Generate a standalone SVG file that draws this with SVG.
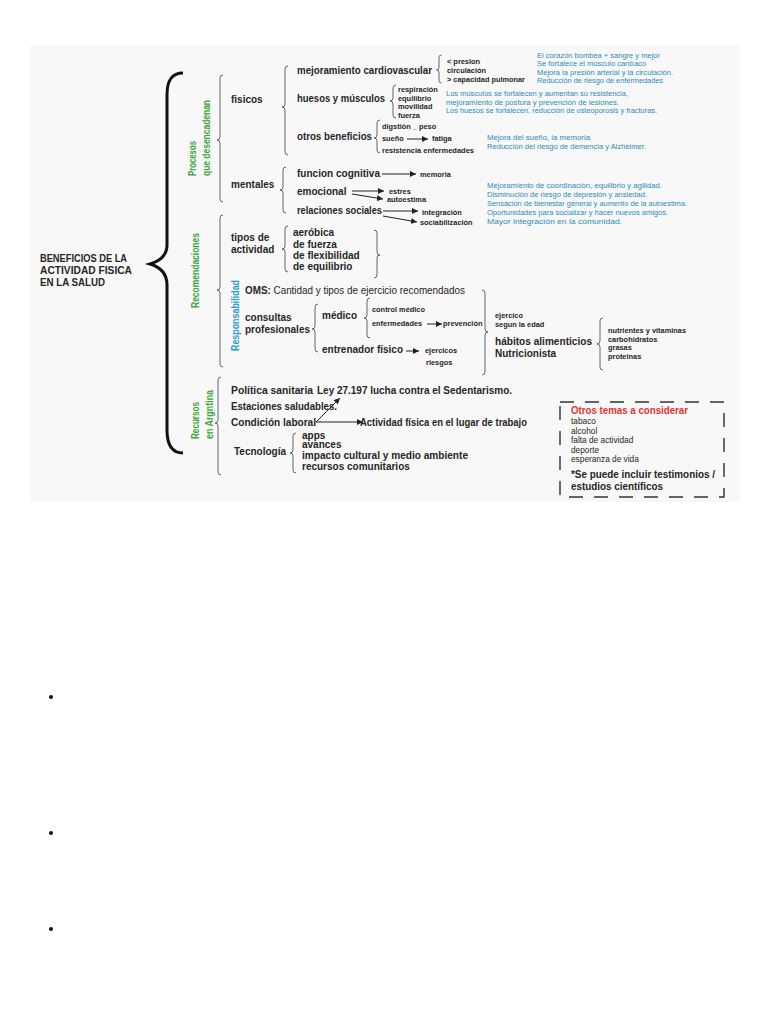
<svg xmlns="http://www.w3.org/2000/svg" width="768" height="1024" viewBox="0 0 768 1024">
<defs>
<style>
text{font-family:"Liberation Sans",Arial,sans-serif;fill:#262626}
.b{font-weight:bold}
.f10{font-size:10px;font-weight:bold}
.f9{font-size:9px;font-weight:bold}
.s{font-size:7.4px;font-weight:bold}
.bl{font-size:7.9px;fill:#2b8cb8}
.g{font-size:11px;font-weight:bold;fill:#3aa639}
.rb{font-size:11px;font-weight:bold;fill:#2a9bd0}
.br{fill:none;stroke:#555;stroke-width:0.9}
.ar{stroke:#222;stroke-width:1;fill:none;marker-end:url(#ah)}
</style>
<marker id="ah" markerUnits="userSpaceOnUse" markerWidth="6" markerHeight="6" refX="6" refY="3" orient="auto">
<path d="M0,0 L6,3 L0,6 z" fill="#222"/>
</marker>
</defs>
<rect width="768" height="1024" fill="#ffffff"/>
<rect x="30" y="45" width="710" height="457" fill="#f8f8f8"/>

<g id="root">
<path d="M183,73 C172,73 167,80 167,95 L167,245 C167,255 160,261 150,264 C160,267 167,273 167,285 L167,430 C167,445 172,453 183,453" fill="none" stroke="#111" stroke-width="3"/>
<text class="f10" x="40" y="262" textLength="87" lengthAdjust="spacingAndGlyphs">BENEFICIOS DE LA</text>
<text class="f10" x="40" y="274" textLength="92" lengthAdjust="spacingAndGlyphs">ACTIVIDAD FISICA</text>
<text class="f10" x="40" y="286" textLength="65" lengthAdjust="spacingAndGlyphs">EN LA SALUD</text>
</g>

<g id="procesos">
<text class="g" transform="translate(196,176) rotate(-90)" textLength="35" lengthAdjust="spacingAndGlyphs">Procesos</text>
<text class="g" transform="translate(210,176) rotate(-90)" textLength="76" lengthAdjust="spacingAndGlyphs">que desencadenan</text>
<path class="br" d="M223,75 Q220,75 220,78 L220,137 Q220,140 217,140 Q220,140 220,143 L220,199 Q220,202 223,202"/>
</g>

<g id="fisicos">
<text class="f10" x="231" y="103">fisicos</text>
<path class="br" d="M288,66 Q285,66 285,69 L285,104 Q285,107 282,107 Q285,107 285,110 L285,152 Q285,155 288,155"/>
</g>

<g id="cardio">
<text class="f10" x="297" y="74" textLength="135" lengthAdjust="spacingAndGlyphs">mejoramiento cardiovascular</text>
<path class="br" d="M441.5,55 Q439,55 439,57.5 L439,67.5 Q439,70 436.5,70 Q439,70 439,72.5 L439,80.5 Q439,83 441.5,83"/>
<text class="s" x="447" y="64">&lt; presion</text>
<text class="s" x="447" y="73">circulación</text>
<text class="s" x="447" y="82" textLength="78" lengthAdjust="spacingAndGlyphs">&gt; capacidad pulmonar</text>
<text class="bl" x="537" y="58" textLength="123" lengthAdjust="spacingAndGlyphs">El corazón bombea + sangre y mejor</text>
<text class="bl" x="537" y="66" textLength="109" lengthAdjust="spacingAndGlyphs">Se fortalece el músculo cardíaco</text>
<text class="bl" x="537" y="75" textLength="136" lengthAdjust="spacingAndGlyphs">Mejora la presión arterial y la circulación.</text>
<text class="bl" x="537" y="83" textLength="126" lengthAdjust="spacingAndGlyphs">Reducción de riesgo de enfermedades</text>
</g>

<g id="huesos">
<text class="f10" x="297" y="102" textLength="88" lengthAdjust="spacingAndGlyphs">huesos y músculos</text>
<path class="br" d="M396,85 Q393,85 393,88 L393,98 Q393,101 390,101 Q393,101 393,104 L393,115 Q393,118 396,118"/>
<text class="s" x="398" y="92">respiración</text>
<text class="s" x="398" y="101">equilibrio</text>
<text class="s" x="398" y="109">movilidad</text>
<text class="s" x="398" y="118">fuerza</text>
<text class="bl" x="446" y="96" textLength="182" lengthAdjust="spacingAndGlyphs">Los músculos se fortalecen y aumentan su resistencia,</text>
<text class="bl" x="446" y="105" textLength="173" lengthAdjust="spacingAndGlyphs">mejoramiento de postura y prevención de lesiones.</text>
<text class="bl" x="446" y="113" textLength="211" lengthAdjust="spacingAndGlyphs">Los huesos se fortalecen, reducción de osteoporosis y fracturas.</text>
</g>

<g id="otros">
<text class="f10" x="297" y="140" textLength="75" lengthAdjust="spacingAndGlyphs">otros beneficios</text>
<path class="br" d="M380,120 Q377,120 377,123 L377,135 Q377,138 374,138 Q377,138 377,141 L377,150 Q377,153 380,153"/>
<text class="s" x="382" y="129">digstión _ peso</text>
<text class="s" x="382" y="141">sueño</text>
<text class="s" x="432" y="141">fatiga</text>
<text class="s" x="382" y="153" textLength="92" lengthAdjust="spacingAndGlyphs">resistencia enfermedades</text>
<text class="bl" x="487" y="140" textLength="103" lengthAdjust="spacingAndGlyphs">Mejora del sueño, la memoria</text>
<text class="bl" x="487" y="149" textLength="159" lengthAdjust="spacingAndGlyphs">Reducción del riesgo de demencia y Alzheimer.</text>
</g>

<g id="mentales">
<text class="f10" x="231" y="188">mentales</text>
<path class="br" d="M286,167 Q283,167 283,170 L283,187 Q283,190 280,190 Q283,190 283,193 L283,210 Q283,213 286,213"/>
<text class="f10" x="297" y="177" textLength="83" lengthAdjust="spacingAndGlyphs">funcion cognitiva</text>
<text class="s" x="420" y="177">memoria</text>
<text class="f10" x="297" y="195">emocional</text>
<text class="s" x="389" y="194">estres</text>
<text class="s" x="387" y="202">autoestima</text>
<text class="f10" x="297" y="214" textLength="85" lengthAdjust="spacingAndGlyphs">relaciones sociales</text>
<text class="s" x="422" y="215">integración</text>
<text class="s" x="420" y="225">sociabilización</text>
<text class="bl" x="487" y="188" textLength="175" lengthAdjust="spacingAndGlyphs">Mejoramiento de coordinación, equilibrio y agilidad.</text>
<text class="bl" x="487" y="197" textLength="160" lengthAdjust="spacingAndGlyphs">Disminución de riesgo de depresión y ansiedad.</text>
<text class="bl" x="487" y="206" textLength="200" lengthAdjust="spacingAndGlyphs">Sensación de bienestar general y aumento de la autoestima.</text>
<text class="bl" x="487" y="215" textLength="181" lengthAdjust="spacingAndGlyphs">Oportunidades para socializar y hacer nuevos amigos.</text>
<text class="bl" x="487" y="224" textLength="135" lengthAdjust="spacingAndGlyphs">Mayor integración en la comunidad.</text>
</g>

<g id="recomendaciones">
<text class="g" transform="translate(199,308) rotate(-90)" textLength="75" lengthAdjust="spacingAndGlyphs">Recomendaciones</text>
<path class="br" d="M223,215 Q220,215 220,218 L220,287 Q220,290 217,290 Q220,290 220,293 L220,364 Q220,367 223,367"/>
</g>

<g id="tipos">
<text class="f10" x="231" y="241">tipos de</text>
<text class="f10" x="231" y="253">actividad</text>
<path class="br" d="M288,226 Q285,226 285,229 L285,246 Q285,249 282,249 Q285,249 285,252 L285,269 Q285,272 288,272"/>
<text class="f10" x="293" y="236">aeróbica</text>
<text class="f10" x="293" y="248">de fuerza</text>
<text class="f10" x="293" y="259">de flexibilidad</text>
<text class="f10" x="293" y="270">de equilibrio</text>
<path class="br" d="M374,230 Q377,230 377,233 L377,252 Q377,255 380,255 Q377,255 377,258 L377,275 Q377,278 374,278"/>
</g>

<g id="responsabilidad">
<text class="rb" transform="translate(239,351) rotate(-90)" textLength="71" lengthAdjust="spacingAndGlyphs">Responsabilidad</text>
<text x="245" y="294" font-size="10.5" textLength="220" lengthAdjust="spacingAndGlyphs"><tspan font-weight="bold">OMS:</tspan> Cantidad y tipos de ejercicio recomendados</text>
</g>

<g id="consultas">
<text class="f10" x="245" y="321">consultas</text>
<text class="f10" x="245" y="333">profesionales</text>
<path class="br" d="M318,304 Q315,304 315,307 L315,326 Q315,329 312,329 Q315,329 315,332 L315,349 Q315,352 318,352"/>
<text class="f10" x="322" y="319">médico</text>
<path class="br" d="M370,298 Q367,298 367,301 L367,315 Q367,318 364,318 Q367,318 367,321 L367,335 Q367,338 370,338"/>
<text class="s" x="372" y="312">control médico</text>
<text class="s" x="372" y="326">enfermedades</text>
<text class="s" x="443" y="326">prevención</text>
<text class="f10" x="322" y="353" textLength="81" lengthAdjust="spacingAndGlyphs">entrenador físico</text>
<text class="s" x="425" y="353">ejercicos</text>
<text class="s" x="426" y="365">riesgos</text>
<path class="br" d="M482,290 Q485,290 485,293 L485,329 Q485,332 488,332 Q485,332 485,335 L485,372 Q485,375 482,375"/>
</g>

<g id="habitos">
<text class="s" x="495" y="318">ejercico</text>
<text class="s" x="495" y="327">segun la edad</text>
<text class="f10" x="495" y="345" font-size="10.5" textLength="97" lengthAdjust="spacingAndGlyphs">hábitos alimenticios</text>
<text class="f10" x="495" y="357" font-size="10.5">Nutricionista</text>
<path class="br" d="M603,318 Q600,318 600,321 L600,341 Q600,344 597,344 Q600,344 600,347 L600,367 Q600,370 603,370"/>
<text class="s" x="608" y="333">nutrientes y vitaminas</text>
<text class="s" x="608" y="342">carbohidratos</text>
<text class="s" x="608" y="350">grasas</text>
<text class="s" x="608" y="359">proteinas</text>
</g>

<g id="recursos">
<text class="g" transform="translate(199,439) rotate(-90)" textLength="37" lengthAdjust="spacingAndGlyphs">Recursos</text>
<text class="g" transform="translate(213,439) rotate(-90)" textLength="49" lengthAdjust="spacingAndGlyphs">en Argntina</text>
<path class="br" d="M221,377 Q218,377 218,380 L218,420 Q218,423 215,423 Q218,423 218,426 L218,472 Q218,475 221,475"/>
</g>

<g id="politica">
<text class="f10" x="231" y="394" textLength="82" lengthAdjust="spacingAndGlyphs">Política sanitaria</text>
<text class="f10" x="317" y="394" textLength="195" lengthAdjust="spacingAndGlyphs">Ley 27.197 lucha contra el Sedentarismo.</text>
<text class="f10" x="231" y="410" textLength="106" lengthAdjust="spacingAndGlyphs">Estaciones saludables.</text>
<text class="f10" x="231" y="426" textLength="85" lengthAdjust="spacingAndGlyphs">Condición laboral</text>
<text class="f10" x="360" y="426" textLength="167" lengthAdjust="spacingAndGlyphs">Actividad física en el lugar de trabajo</text>
</g>

<g id="tecnologia">
<text class="f10" x="234" y="455">Tecnología</text>
<path class="br" d="M296,433 Q293,433 293,436 L293,450 Q293,453 290,453 Q293,453 293,456 L293,470 Q293,473 296,473"/>
<text class="f10" x="302" y="439" font-size="9.5">apps</text>
<text class="f10" x="302" y="448" font-size="9.5">avances</text>
<text class="f10" x="302" y="459" textLength="166" lengthAdjust="spacingAndGlyphs">impacto cultural y medio ambiente</text>
<text class="f10" x="302" y="470">recursos comunitarios</text>
</g>

<g id="otros-temas">
<rect x="560" y="402" width="164" height="95" fill="none" stroke="#333" stroke-width="1.4" stroke-dasharray="14 11"/>
<text x="571" y="414" font-size="10.5" font-weight="bold" style="fill:#e8312f" textLength="117" lengthAdjust="spacingAndGlyphs">Otros temas a considerar</text>
<text x="571" y="424" font-size="8.3">tabaco</text>
<text x="571" y="434" font-size="8.3">alcohol</text>
<text x="571" y="443" font-size="8.3">falta de actividad</text>
<text x="571" y="453" font-size="8.3">deporte</text>
<text x="571" y="462" font-size="8.3">esperanza de vida</text>
<text class="f10" x="571" y="478" textLength="144" lengthAdjust="spacingAndGlyphs">*Se puede incluir testimonios /</text>
<text class="f10" x="571" y="490" textLength="92" lengthAdjust="spacingAndGlyphs">estudios científicos</text>
</g>

<g id="connectors">
<line class="ar" x1="407" y1="139" x2="428" y2="139"/>
<line class="ar" x1="382" y1="174" x2="416" y2="174"/>
<line class="ar" x1="352" y1="191" x2="384" y2="191"/>
<line class="ar" x1="352" y1="194" x2="383" y2="199"/>
<line class="ar" x1="383" y1="211" x2="418" y2="211"/>
<line class="ar" x1="383" y1="216" x2="417" y2="222"/>
<line class="ar" x1="427" y1="324" x2="442" y2="324"/>
<line class="ar" x1="406" y1="351" x2="419" y2="351"/>
<line class="ar" x1="316" y1="422" x2="340" y2="398"/>
<line class="ar" x1="316" y1="422" x2="363" y2="422"/>
</g>

<g id="bullets">
<circle cx="51" cy="697" r="2" fill="#111"/>
<circle cx="51" cy="833" r="2" fill="#111"/>
<circle cx="51" cy="929" r="2" fill="#111"/>
</g>
</svg>
